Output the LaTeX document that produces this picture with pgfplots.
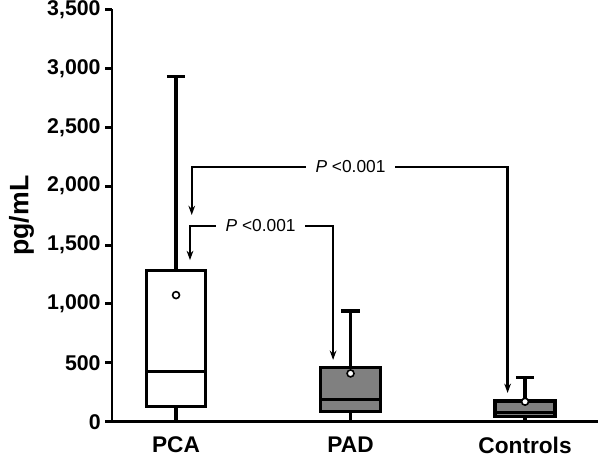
\documentclass[border=0pt]{standalone}
\usepackage{pgfplots}
\pgfplotsset{compat=1.18}
\usetikzlibrary{arrows.meta}
\usepackage{fontspec}
\setmainfont{Liberation Sans}
\definecolor{boxgray}{RGB}{128,128,128}
\begin{document}
\begin{tikzpicture}
\begin{axis}[
  scale only axis,
  width=364.5pt, height=309.2pt,
  xmin=-0.367, xmax=2.418,
  ymin=0, ymax=3500,
  axis lines=left,
  axis line style={-, line width=2.2pt},
  xtick={0,1,2},
  xticklabels={PCA,PAD,Controls},
  x tick label style={font=\fontsize{17}{20}\selectfont\bfseries, yshift=-3pt},
  major x tick style={draw=none},
  ytick={0,500,1000,1500,2000,2500,3000,3500},
  yticklabels={0,500,{1,000},{1,500},{2,000},{2,500},{3,000},{3,500}},
  y tick label style={font=\fontsize{16}{19}\selectfont\bfseries},
  tick align=outside,
  major tick length=5pt,
  major y tick style={line width=2.2pt, black},
  ylabel={pg/mL},
  ylabel style={font=\fontsize{20}{24}\selectfont\bfseries, xshift=0pt, yshift=3pt},
  clip=false,
  cycle list={{black,solid,mark=none}},
  every axis plot/.append style={line width=2.4pt, line join=miter},
]
% PCA
\addplot coordinates {(0,0) (0,127)};
\addplot coordinates {(0,1285) (0,2930)};
\addplot coordinates {(-0.052,2930) (0.052,2930)};
\addplot[black, fill=white] coordinates {(-0.17,127) (0.17,127) (0.17,1285) (-0.17,1285) (-0.17,127)} --cycle;
\addplot coordinates {(-0.17,425) (0.17,425)};
% PAD
\addplot coordinates {(1,0) (1,85)};
\addplot coordinates {(1,459) (1,940)};
\addplot coordinates {(0.948,940) (1.052,940)};
\addplot[black, fill=boxgray] coordinates {(0.828,85) (1.172,85) (1.172,459) (0.828,459) (0.828,85)} --cycle;
\addplot coordinates {(0.828,190) (1.172,190)};
% Controls
\addplot coordinates {(2,0) (2,42)};
\addplot coordinates {(2,176) (2,374)};
\addplot coordinates {(1.948,374) (2.052,374)};
\addplot[black, fill=boxgray] coordinates {(1.828,42) (2.172,42) (2.172,176) (1.828,176) (1.828,42)} --cycle;
\addplot coordinates {(1.828,76) (2.172,76)};
% means
\addplot[only marks, mark=*, mark size=2.6pt, mark options={fill=white, draw=black, line width=1.2pt}]
  coordinates {(0,1075) (1,410) (2,170)};
% significance brackets
\draw[line width=1.8pt, {Stealth[length=7pt,width=5pt]}-{Stealth[length=7pt,width=5pt]}]
  (axis cs:0.09,1755) -- (axis cs:0.09,2165) -- (axis cs:1.90,2165) -- (axis cs:1.90,244);
\node[fill=white, inner xsep=7pt, inner ysep=2pt, font=\fontsize{13}{15}\selectfont]
  at (axis cs:1.0,2165) {\textit{P} <0.001};
\draw[line width=1.8pt, {Stealth[length=7pt,width=5pt]}-{Stealth[length=7pt,width=5pt]}]
  (axis cs:0.08,1372) -- (axis cs:0.08,1662) -- (axis cs:0.90,1662) -- (axis cs:0.90,525);
\node[fill=white, inner xsep=7pt, inner ysep=2pt, font=\fontsize{13}{15}\selectfont]
  at (axis cs:0.485,1662) {\textit{P} <0.001};
\end{axis}
\pgfresetboundingbox
\path[use as bounding box] ([xshift=-84pt,yshift=-26.5pt]current axis.south west) rectangle ([xshift=1.5pt,yshift=7.1pt]current axis.north east);
\end{tikzpicture}
\end{document}
